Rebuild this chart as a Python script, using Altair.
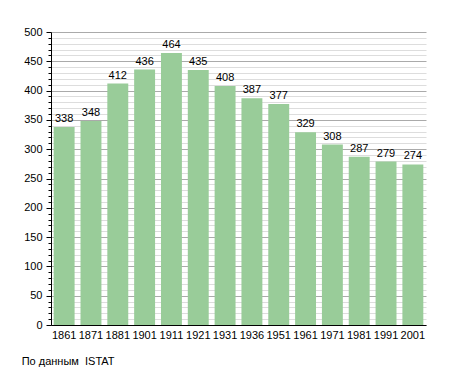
import altair as alt
import pandas as pd

years = ["1861", "1871", "1881", "1901", "1911", "1921", "1931", "1936", "1951", "1961", "1971", "1981", "1991", "2001"]
population = [338, 348, 412, 436, 464, 435, 408, 387, 377, 329, 308, 287, 279, 274]
tick_values = list(range(0, 501, 10))

df = pd.DataFrame({"year": years, "pop": population})

FONT = "Liberation Sans"

x = alt.X("year:N", sort=years, title=None,
          scale=alt.Scale(paddingInner=0.22, paddingOuter=0.1),
          axis=alt.Axis(labelAngle=0, labelFont=FONT, labelFontSize=11, labelColor="black",
                        ticks=False, domainColor="black", labelPadding=4))

y_scale = alt.Scale(domain=[0, 500], nice=False)

major = "datum.value % 50 === 0"

bars = alt.Chart(df).mark_bar(color="#99CC99").encode(
    x=x,
    y=alt.Y("pop:Q", scale=y_scale, title=None,
            axis=alt.Axis(values=tick_values, tickCount=100, grid=True,
                          gridColor={"condition": {"test": major, "value": "#aaaaaa"}, "value": "#dddddd"},
                          gridWidth=1,
                          tickSize={"condition": {"test": major, "value": 5}, "value": 3},
                          tickColor="black", domainColor="black",
                          labelExpr=f"{major} ? datum.label : ''",
                          labelFont=FONT, labelFontSize=11, labelColor="black",
                          labelPadding=4, labelOverlap=False)),
)

labels = alt.Chart(df).mark_text(baseline="bottom", dy=-3, font=FONT, fontSize=11, color="black").encode(
    x=alt.X("year:N", sort=years),
    y=alt.Y("pop:Q", scale=y_scale),
    text="pop:Q",
)

chart = alt.layer(bars, labels).properties(
    width=375,
    height=293,
    padding={"left": 43, "top": 24, "right": 21, "bottom": 42},
    autosize=alt.AutoSizeParams(type="none"),
    title=alt.TitleParams("По данным\u00a0 ISTAT", orient="bottom", anchor="start", frame="bounds",
                          font=FONT, fontSize=11, fontWeight="normal", color="black",
                          offset=16, dx=-2),
).configure_view(stroke=None)

chart.save("out.html", embed_options={"renderer": "svg", "actions": False})
